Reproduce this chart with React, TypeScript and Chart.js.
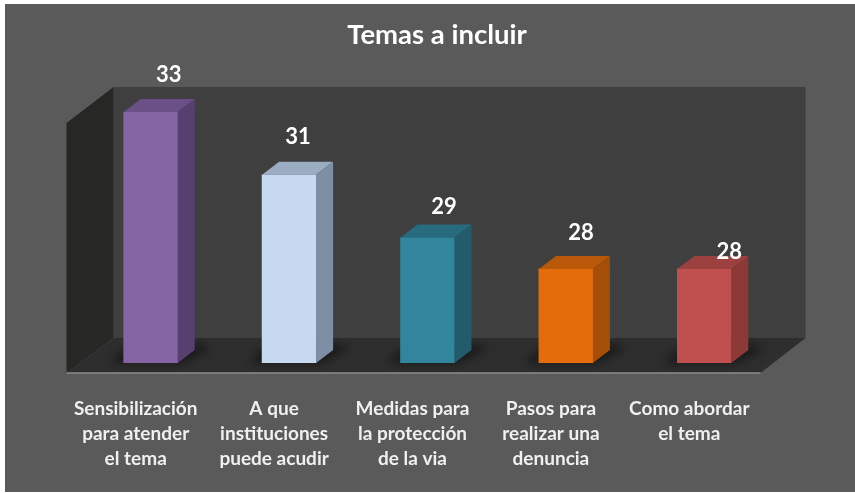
import React, { useEffect, useRef } from "react";
import { Chart, registerables } from "chart.js";

Chart.register(...registerables);

const categories: string[][] = [
  ["Sensibilización", "para atender", "el tema"],
  ["A que", "instituciones", "puede acudir"],
  ["Medidas para", "la protección", "de la via"],
  ["Pasos para", "realizar una", "denuncia"],
  ["Como abordar", "el tema"],
];
const seriesValues: number[] = [33, 31, 29, 28, 28];
const titleText = "Temas a incluir";

const frontColors = ["#8564A3", "#C6D9F1", "#31859C", "#E46C0A", "#C0504D"];
const topColors = ["#6B5088", "#9BADC3", "#276B7E", "#B95808", "#9C413F"];
const sideColors = ["#564070", "#7F8FA3", "#235B6D", "#A44E07", "#8B3A38"];

const DEPTH_X = 17;
const DEPTH_Y = 13;
const FONT = "Lato, 'Open Sans', sans-serif";

const poly = (ctx: CanvasRenderingContext2D, pts: number[][], fill: string) => {
  ctx.beginPath();
  pts.forEach(([x, y], i) => (i ? ctx.lineTo(x, y) : ctx.moveTo(x, y)));
  ctx.closePath();
  ctx.fillStyle = fill;
  ctx.fill();
};

const scene3d = {
  id: "scene3d",
  beforeDraw(chart: any) {
    const { ctx, width, height } = chart;
    ctx.save();
    ctx.fillStyle = "#5A5A5A";
    ctx.fillRect(5, 4, width - 5, height - 5);
    ctx.restore();
  },
  afterLayout(chart: any) {
    // title is centred a little right of the plot centre
    const t = chart.titleBlock;
    t.left = 0;
    t.right = 874;
  },
  beforeDatasetsDraw(chart: any) {
    const { ctx, chartArea: a } = chart;
    const fl = a.left - 15, fr = a.right - 13, fb = a.bottom + 10;
    const bl = a.left + 32, br = a.right + 32, bb = a.bottom - 25, bt = a.top - 25;
    ctx.save();
    poly(ctx, [[bl, bt], [br, bt], [br, bb], [bl, bb]], "#3F3F3F");
    poly(ctx, [[fl, bt + 36], [bl, bt], [bl, bb], [fl, fb]], "#272725");
    poly(ctx, [[fl, fb], [bl, bb], [br, bb], [fr, fb]], "#2E2E2E");
    // soft shadows of the bars on the floor, clipped to the floor
    ctx.save();
    ctx.beginPath();
    ctx.moveTo(fl, fb);
    ctx.lineTo(bl, bb);
    ctx.lineTo(br, bb);
    ctx.lineTo(fr, fb);
    ctx.closePath();
    ctx.clip();
    ctx.filter = "blur(5px)";
    chart.getDatasetMeta(0).data.forEach((b: any) => {
      const l = b.x - b.width / 2, r = b.x + b.width / 2;
      poly(
        ctx,
        [[l - 14, a.bottom + 1], [r + 4, a.bottom + 1], [r + 34, a.bottom - 15], [r + 20, a.bottom - 19], [l, a.bottom - 14]],
        "rgba(22,22,22,0.85)"
      );
    });
    ctx.restore();
    ctx.strokeStyle = "#8C8C8C";
    ctx.lineWidth = 1.5;
    ctx.beginPath();
    ctx.moveTo(fl, fb);
    ctx.lineTo(fr, fb);
    ctx.stroke();
    ctx.restore();
  },
  afterDatasetsDraw(chart: any) {
    const { ctx, chartArea: a } = chart;
    const bars = chart.getDatasetMeta(0).data;
    const nudges = [[18, -37], [9, -38], [16.5, -31], [15, -36], [25, -17]];
    ctx.save();
    bars.forEach((b: any, i: number) => {
      const l = b.x - b.width / 2, r = b.x + b.width / 2, t = b.y, bot = a.bottom;
      poly(ctx, [[l, t], [l + DEPTH_X, t - DEPTH_Y], [r + DEPTH_X, t - DEPTH_Y], [r, t]], topColors[i]);
      poly(ctx, [[r, t], [r + DEPTH_X, t - DEPTH_Y], [r + DEPTH_X, bot - DEPTH_Y], [r, bot]], sideColors[i]);
    });
    ctx.fillStyle = "#FFFFFF";
    ctx.font = `bold 22px ${FONT}`;
    ctx.textAlign = "center";
    ctx.textBaseline = "middle";
    bars.forEach((b: any, i: number) => {
      ctx.fillText(String(seriesValues[i]), b.x + nudges[i][0], b.y + nudges[i][1]);
    });
    ctx.restore();
  },
};

export default function App() {
  const ref = useRef<HTMLCanvasElement>(null);
  useEffect(() => {
    const chart = new Chart(ref.current as HTMLCanvasElement, {
      type: "bar",
      data: {
        labels: categories as any,
        datasets: [
          {
            label: titleText,
            data: seriesValues,
            backgroundColor: frontColors,
            borderWidth: 0,
            barThickness: 54,
          },
        ],
      },
      options: {
        responsive: false,
        animation: false,
        events: [],
        layout: { padding: { left: 81.5, right: 81.5, top: 19, bottom: 0 } },
        plugins: {
          legend: { display: false },
          tooltip: { enabled: false },
          title: {
            display: true,
            text: titleText,
            color: "#FFFFFF",
            font: { family: FONT, size: 27.5, weight: "bold" },
            padding: { top: 0, bottom: 60 },
          },
        },
        scales: {
          x: {
            grid: { display: false },
            border: { display: false },
            ticks: {
              color: "#F0F0F0",
              font: { family: FONT, size: 19, weight: "bold", lineHeight: 25 / 19 },
              padding: 25,
              labelOffset: -15,
              maxRotation: 0,
              autoSkip: false,
            },
            afterFit: (s: any) => {
              s.height = 130;
            },
          },
          y: { display: false, min: 25, max: 33 },
        },
      },
      plugins: [scene3d],
    } as any);
    return () => chart.destroy();
  }, []);
  return (
    <div style={{ position: "fixed", left: 0, top: 0 }}>
      <canvas ref={ref} width={855} height={493} style={{ display: "block" }} />
    </div>
  );
}
